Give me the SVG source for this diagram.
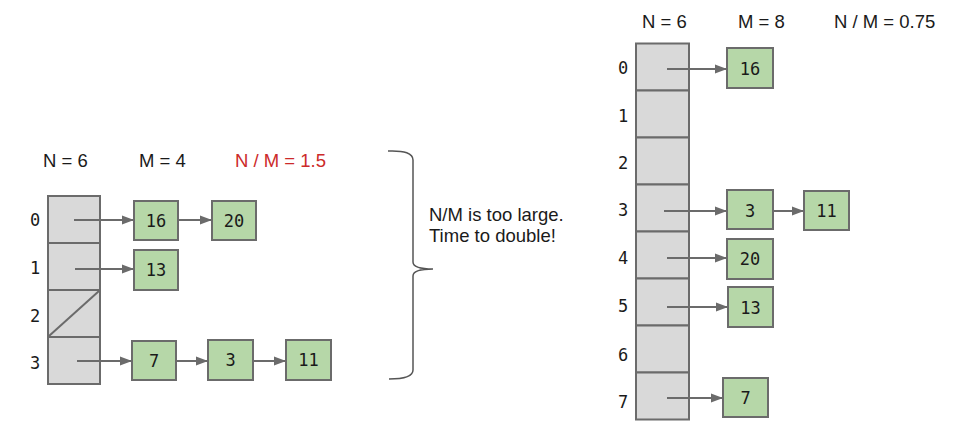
<svg xmlns="http://www.w3.org/2000/svg" width="960" height="440" viewBox="0 0 960 440">
<style>
  .bg{fill:#ffffff}
  .cell{fill:#d9d9d9;stroke:#6b6b6b;stroke-width:2}
  .node rect{fill:#b6d7a8;stroke:#6b6b6b;stroke-width:2}
  .node text,.idx{font-family:"DejaVu Sans Mono","Liberation Mono",monospace;font-size:17px;fill:#1a1a1a;text-anchor:middle;dominant-baseline:central}
  .hdr{font-family:"Liberation Sans",Arial,sans-serif;font-size:18.5px;fill:#1a1a1a}
  .red{fill:#cc2a2a}
  .conn line{stroke:#6b6b6b;stroke-width:2;marker-end:url(#ah)}
  .brace{fill:none;stroke:#555;stroke-width:1.5}
</style>
<defs>
  <marker id="ah" markerUnits="userSpaceOnUse" markerWidth="12" markerHeight="10" refX="12" refY="5" orient="auto">
    <path d="M0,0.5 L12,5 L0,9.5 z" fill="#6b6b6b"/>
  </marker>
</defs>
<rect class="bg" x="0" y="0" width="960" height="440"/>

<!-- Left headers -->
<g id="left-header">
  <text class="hdr" x="43" y="167">N = 6</text>
  <text class="hdr" x="139" y="167">M = 4</text>
  <text class="hdr red" x="235" y="167">N / M = 1.5</text>
</g>

<!-- Left array -->
<g id="left-array">
  <rect class="cell" x="48" y="196" width="52" height="47"/>
  <rect class="cell" x="48" y="243" width="52" height="47"/>
  <rect class="cell" x="48" y="290" width="52" height="47"/>
  <rect class="cell" x="48" y="337" width="52" height="47"/>
  <line x1="49" y1="336" x2="99" y2="291" stroke="#6b6b6b" stroke-width="2"/>
  <text class="idx" x="35" y="220">0</text>
  <text class="idx" x="35" y="268">1</text>
  <text class="idx" x="35" y="316">2</text>
  <text class="idx" x="35" y="363">3</text>
</g>

<g id="L16" class="node"><rect x="134" y="201" width="44" height="39"/><text x="156" y="221">16</text></g>
<g id="L20" class="node"><rect x="212" y="201" width="44" height="39"/><text x="234" y="221">20</text></g>
<g id="L13" class="node"><rect x="134" y="250" width="44" height="40"/><text x="156" y="270">13</text></g>
<g id="L7" class="node"><rect x="132" y="341" width="44" height="39"/><text x="154" y="361">7</text></g>
<g id="L3" class="node"><rect x="208" y="340" width="45" height="40"/><text x="230.5" y="360">3</text></g>
<g id="L11" class="node"><rect x="286" y="340" width="45" height="40"/><text x="308.5" y="360">11</text></g>

<!-- Brace and note -->
<g id="brace">
  <path class="brace" d="M388,151 Q413,150 413,160 L413,262 Q413,269 433,269 Q413,269 413,276 L413,370 Q413,379 389,379"/>
</g>
<g id="note">
  <text class="hdr" x="429" y="221">N/M is too large.</text>
  <text class="hdr" x="429" y="242">Time to double!</text>
</g>

<!-- Right headers -->
<g id="right-header">
  <text class="hdr" x="642" y="28">N = 6</text>
  <text class="hdr" x="738" y="28">M = 8</text>
  <text class="hdr" x="834" y="28">N / M = 0.75</text>
</g>

<!-- Right array -->
<g id="right-array">
  <rect class="cell" x="636" y="43.5" width="53" height="47"/>
  <rect class="cell" x="636" y="90.5" width="53" height="47"/>
  <rect class="cell" x="636" y="137.5" width="53" height="47"/>
  <rect class="cell" x="636" y="184.5" width="53" height="47"/>
  <rect class="cell" x="636" y="231.5" width="53" height="47"/>
  <rect class="cell" x="636" y="278.5" width="53" height="47"/>
  <rect class="cell" x="636" y="325.5" width="53" height="47"/>
  <rect class="cell" x="636" y="372.5" width="53" height="47"/>
  <text class="idx" x="623" y="68">0</text>
  <text class="idx" x="623" y="116">1</text>
  <text class="idx" x="623" y="163">2</text>
  <text class="idx" x="623" y="210">3</text>
  <text class="idx" x="623" y="258">4</text>
  <text class="idx" x="623" y="306">5</text>
  <text class="idx" x="623" y="355">6</text>
  <text class="idx" x="623" y="402">7</text>
</g>

<g id="R16" class="node"><rect x="727" y="48" width="46" height="40"/><text x="750" y="69">16</text></g>
<g id="R3" class="node"><rect x="727" y="190" width="46" height="39"/><text x="750" y="211">3</text></g>
<g id="R11" class="node"><rect x="804" y="191" width="45" height="39"/><text x="826.5" y="211">11</text></g>
<g id="R20" class="node"><rect x="727" y="239" width="46" height="40"/><text x="750" y="259">20</text></g>
<g id="R13" class="node"><rect x="728" y="287" width="45" height="40"/><text x="750.5" y="308">13</text></g>
<g id="R7" class="node"><rect x="723" y="378" width="45" height="39"/><text x="745.5" y="398">7</text></g>

<!-- Connectors -->
<g id="connectors" class="conn">
  <line x1="74" y1="220" x2="134" y2="220"/>
  <line x1="178" y1="220" x2="212" y2="220"/>
  <line x1="75" y1="269" x2="134" y2="269"/>
  <line x1="77" y1="361" x2="132" y2="361"/>
  <line x1="176" y1="361" x2="208" y2="361"/>
  <line x1="253" y1="361" x2="286" y2="361"/>
  <line x1="667" y1="69" x2="727" y2="69"/>
  <line x1="664" y1="211" x2="727" y2="211"/>
  <line x1="773" y1="211" x2="804" y2="211"/>
  <line x1="667" y1="258" x2="727" y2="258"/>
  <line x1="667" y1="307" x2="728" y2="307"/>
  <line x1="667" y1="398" x2="723" y2="398"/>
</g>
</svg>
